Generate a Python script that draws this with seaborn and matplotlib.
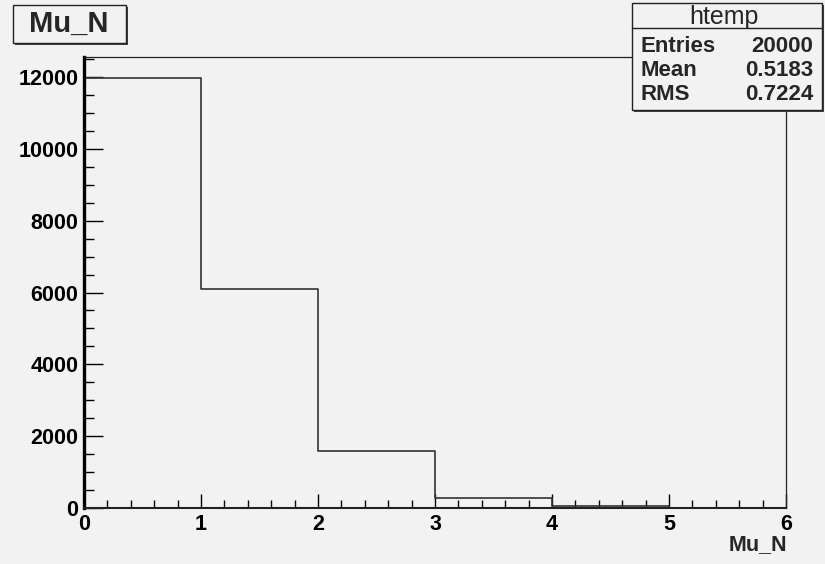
import numpy as np
import matplotlib
matplotlib.use("Agg")
import matplotlib.pyplot as plt
from matplotlib.patches import Rectangle
from matplotlib.ticker import MultipleLocator
import seaborn as sns

# histogram of Mu_N, one bin per integer value
bin_edges = [0, 1, 2, 3, 4, 5, 6]
bin_counts = [11960, 6110, 1590, 270, 60, 10]
hist_name = "htemp"
var_name = "Mu_N"
stat_names = ["Entries", "Mean", "RMS"]
stat_values = ["20000", "0.5183", "0.7224"]

bg = "#f2f2f2"
sns.set_style("ticks", {"axes.facecolor": bg, "figure.facecolor": bg})
plt.rcParams["font.family"] = ["Liberation Sans", "DejaVu Sans"]
plt.rcParams["font.weight"] = "bold"

W, H = 825, 564
fig = plt.figure(figsize=(W / 100, H / 100), dpi=100)
fig.patch.set_facecolor(bg)

def fx(px):
    return px / W

def fy(py):
    return 1 - py / H

ax = fig.add_axes([fx(84), fy(508), fx(786) - fx(84), fy(57) - fy(508)])
ax.set_facecolor(bg)

centers = [(a + b) / 2 for a, b in zip(bin_edges[:-1], bin_edges[1:])]
sns.histplot(x=centers, weights=bin_counts, bins=bin_edges, element="step",
             fill=False, color="#333333", linewidth=1.2, ax=ax)

ax.set_xlim(bin_edges[0], bin_edges[-1])
ax.set_ylim(0, 1.05 * max(bin_counts))
ax.xaxis.set_major_locator(MultipleLocator(1))
ax.xaxis.set_minor_locator(MultipleLocator(0.2))
ax.yaxis.set_major_locator(MultipleLocator(2000))
ax.yaxis.set_minor_locator(MultipleLocator(500))
ax.tick_params(axis="both", which="both", direction="in", top=False, right=False,
               labelsize=15.5, colors="black")
ax.tick_params(axis="y", which="major", length=14, width=1.0, pad=4)
ax.tick_params(axis="y", which="minor", length=7.5, width=1.0)
ax.tick_params(axis="x", which="major", length=10, width=1.0, pad=4)
ax.tick_params(axis="x", which="minor", length=5.5, width=1.0)
for lab in ax.get_xticklabels() + ax.get_yticklabels():
    lab.set_fontweight("bold")

ax.set_ylabel("")
ax.set_xlabel("")
for side in ["top", "right"]:
    ax.spines[side].set_visible(True)
    ax.spines[side].set_linewidth(0.9)
    ax.spines[side].set_color("#222222")
ax.spines["left"].set_linewidth(2.4)
ax.spines["left"].set_color("black")
ax.spines["bottom"].set_linewidth(1.5)
ax.spines["bottom"].set_color("#222222")

# x-axis title at the right end
fig.text(fx(787), fy(545), var_name, ha="right", va="center", fontsize=15.5,
         fontweight="bold")

# title box (top left) with shadow
fig.add_artist(Rectangle((fx(15), fy(45)), fx(126) - fx(13), fy(5) - fy(43),
                         transform=fig.transFigure, facecolor="#444444",
                         edgecolor="none", zorder=4))
fig.add_artist(Rectangle((fx(13), fy(43)), fx(126) - fx(13), fy(5) - fy(43),
                         transform=fig.transFigure, facecolor=bg,
                         edgecolor="#222222", linewidth=1.0, zorder=5))
fig.text(fx(69), fy(24), var_name, ha="center", va="center", fontsize=21,
         fontweight="bold", zorder=6)

# stats box (top right) with shadow
fig.add_artist(Rectangle((fx(634), fy(112)), fx(822) - fx(632), fy(3) - fy(110),
                         transform=fig.transFigure, facecolor="#444444",
                         edgecolor="none", zorder=4))
fig.add_artist(Rectangle((fx(632), fy(110)), fx(822) - fx(632), fy(3) - fy(110),
                         transform=fig.transFigure, facecolor=bg,
                         edgecolor="#222222", linewidth=1.0, zorder=5))
fig.add_artist(plt.Line2D([fx(632), fx(822)], [fy(28), fy(28)],
                          transform=fig.transFigure, color="#222222",
                          linewidth=1.0, zorder=6))
fig.text(fx(724), fy(17), hist_name, ha="center", va="center", fontsize=18,
         fontweight="normal", zorder=6)
row_y = [46, 71, 94]
for name, val, yy in zip(stat_names, stat_values, row_y):
    fig.text(fx(640), fy(yy), name, ha="left", va="center", fontsize=16,
             fontweight="bold", zorder=6)
    fig.text(fx(813), fy(yy), val, ha="right", va="center", fontsize=16,
             fontweight="bold", zorder=6)

fig.savefig("out.png", dpi=100, facecolor=bg)
